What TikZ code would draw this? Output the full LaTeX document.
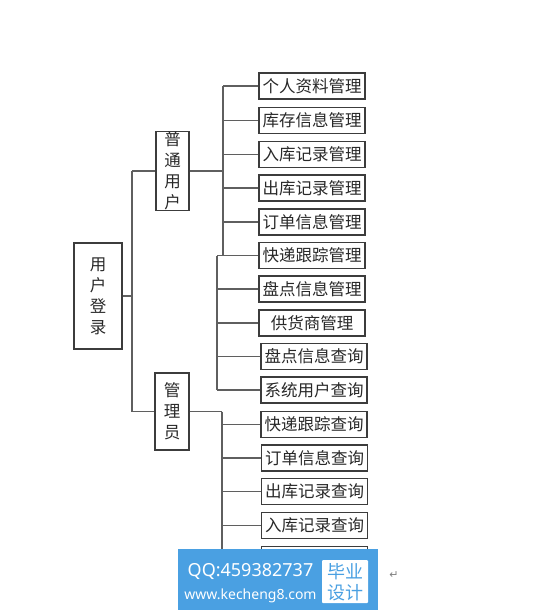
\documentclass[tikz,border=0pt]{standalone}
\usepackage{fontspec}
\newfontfamily\cjk{Noto Sans CJK SC}
\newfontfamily\latinsans{Noto Sans}
\newfontfamily\symfont{DejaVu Sans}
\definecolor{wmblue}{RGB}{74,160,226}
\definecolor{linecol}{RGB}{95,95,95}
\definecolor{boxcol}{RGB}{60,60,60}
\definecolor{txtcol}{RGB}{40,40,40}
\begin{document}
\begin{tikzpicture}[x=1pt,y=-1pt,
  item/.style={draw=boxcol,line width=1.3pt,minimum width=106pt,minimum height=26pt,inner sep=0pt,font=\cjk\fontsize{16.5}{18}\selectfont,text=txtcol},
  vbox/.style={draw=boxcol,line width=1.3pt,inner sep=0pt,align=center,font=\cjk\fontsize{16.5}{21}\selectfont,text=txtcol},
  conn/.style={draw=linecol,line width=1.3pt}]
\useasboundingbox (0,0) rectangle (556,615);
% main boxes
\node[vbox,minimum width=48pt,minimum height=106pt] (root) at (98,296) {用\\户\\登\\录};
\node[vbox,minimum width=33pt,minimum height=76pt] (pu) at (172.5,171) {普\\通\\用\\户};
\node[vbox,minimum width=34pt,minimum height=77pt] (adm) at (172,411.5) {管\\理\\员};
% items
\node[item] (i1) at (312,86) {个人资料管理};
\node[item] (i2) at (312,120.5) {库存信息管理};
\node[item] (i3) at (312,154.5) {入库记录管理};
\node[item] (i4) at (312,188) {出库记录管理};
\node[item] (i5) at (312,222) {订单信息管理};
\node[item] (i6) at (312,255.5) {快递跟踪管理};
\node[item] (i7) at (312,289) {盘点信息管理};
\node[item] (i8) at (312,323) {供货商管理};
\node[item] (i9) at (314,356.5) {盘点信息查询};
\node[item] (i10) at (314,390) {系统用户查询};
\node[item] (i11) at (314,424.5) {快递跟踪查询};
\node[item] (i12) at (314.5,458) {订单信息查询};
\node[item] (i13) at (314.5,491.5) {出库记录查询};
\node[item] (i14) at (314.5,525.5) {入库记录查询};
\node[item] (i15) at (314.5,559.5) {};
% spine coordinates
\coordinate (sR) at (132,0);
\coordinate (sA) at (223,0);
\coordinate (sB) at (217,0);
\coordinate (sC) at (222,0);
% root connections
\draw[conn] (root.east) -- (sR |- root.east);
\draw[conn] (sR |- pu.west) -- (sR |- adm.west);
\draw[conn] (sR |- pu.west) -- (pu.west);
\draw[conn] (sR |- adm.west) -- (adm.west);
% normal user group
\draw[conn] (pu.east) -- (sA |- pu.east);
\draw[conn] (sA |- i1.west) -- (sA |- i6.west);
\foreach \k in {1,...,5}{\draw[conn] (sA |- i\k.west) -- (i\k.west);}
\draw[conn] (sB |- i6.west) -- (sB |- i10.west);
\foreach \k in {6,...,10}{\draw[conn] (sB |- i\k.west) -- (i\k.west);}
% admin group
\draw[conn] (adm.east) -- (sC |- adm.east);
\draw[conn] (sC |- adm.east) -- (sC |- i15.west);
\foreach \k in {11,...,15}{\draw[conn] (sC |- i\k.west) -- (i\k.west);}
% watermark
\node[fill=wmblue,inner sep=0pt,minimum width=200pt,minimum height=61pt] (wm) at (278,579.5) {};
\node[fill=white,inner sep=0pt,minimum width=46pt,minimum height=43pt,rounded corners=1pt] (wmw) at (345,581.5) {};
\node[text=white,font=\latinsans\bfseries\fontsize{18}{20}\selectfont,inner sep=0pt] (qq) at (250.5,571) {QQ:459382737};
\node[text=white,font=\latinsans\bfseries\fontsize{14}{16}\selectfont,inner sep=0pt] (web) at (250.5,596) {www.kecheng8.com};
\node[text=wmblue,font=\cjk\fontsize{18}{20}\selectfont,inner sep=0pt] (by) at (345,571.5) {毕业};
\node[text=wmblue,font=\cjk\fontsize{18}{20}\selectfont,inner sep=0pt] (sj) at (345,593) {设计};
\node[text=gray,font=\symfont\fontsize{11}{12}\selectfont,inner sep=0pt] (pm) at (394,575) {↵};
\end{tikzpicture}
\end{document}
